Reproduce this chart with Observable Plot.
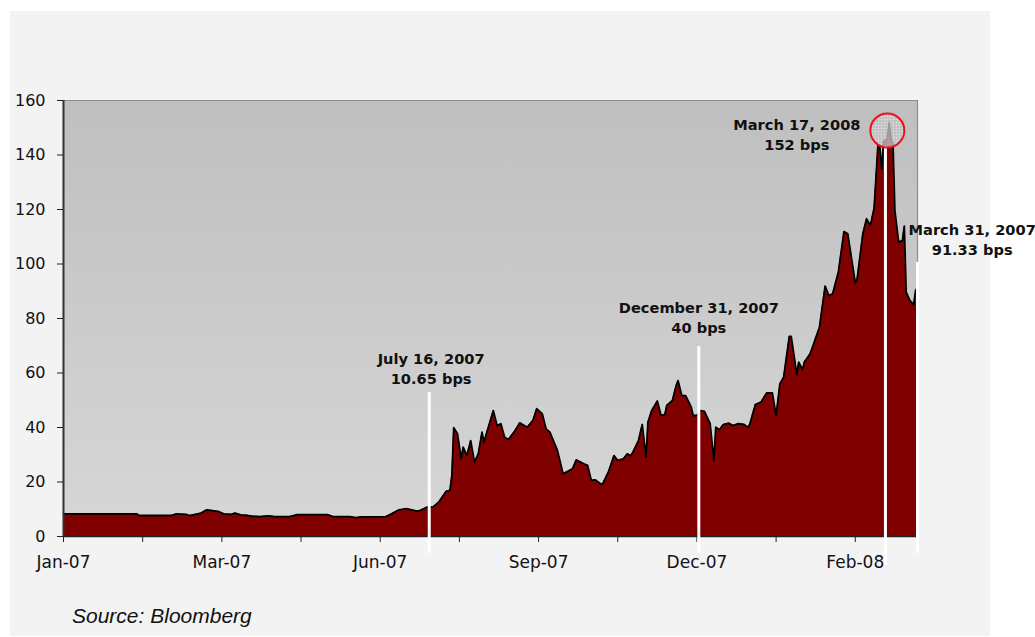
<!DOCTYPE html>
<html><head><meta charset="utf-8">
<script src="https://cdn.jsdelivr.net/npm/d3@7"></script>
<script src="https://cdn.jsdelivr.net/npm/@observablehq/plot@0.6"></script>
<style>
html,body{margin:0;padding:0;background:#fff;}
#panel{position:absolute;left:10px;top:11px;width:980px;height:625px;background:#f3f3f3;}
#chart{position:absolute;left:0;top:0;}
#caption{position:absolute;left:72px;top:604px;font:italic 21px "Liberation Sans",Arial,sans-serif;line-height:24px;color:#111;}
</style></head><body>
<div id="panel"></div>
<div id="chart"></div>
<div id="caption">Source: Bloomberg</div>
<script>
// ---- data ----
const dates = [
"2007-01-01","2007-02-09","2007-02-10","2007-02-27","2007-03-02","2007-03-07","2007-03-09","2007-03-15","2007-03-18","2007-03-24",
"2007-03-27","2007-03-31","2007-04-02","2007-04-05","2007-04-09","2007-04-11","2007-04-15","2007-04-20","2007-04-23","2007-05-01",
"2007-05-05","2007-05-21","2007-05-24","2007-06-02","2007-06-05","2007-06-08","2007-06-21","2007-06-24","2007-06-28","2007-07-02",
"2007-07-07","2007-07-09","2007-07-13","2007-07-16","2007-07-19","2007-07-23","2007-07-25","2007-07-26","2007-07-27","2007-07-29",
"2007-07-31","2007-08-01","2007-08-03","2007-08-05","2007-08-07","2007-08-09","2007-08-11","2007-08-12","2007-08-17","2007-08-19",
"2007-08-21","2007-08-23","2007-08-25","2007-08-28","2007-08-31","2007-09-04","2007-09-07","2007-09-09","2007-09-12","2007-09-14",
"2007-09-16","2007-09-20","2007-09-23","2007-09-28","2007-09-30","2007-10-04","2007-10-06","2007-10-08","2007-10-10","2007-10-13",
"2007-10-14","2007-10-17","2007-10-20","2007-10-22","2007-10-25","2007-10-27","2007-10-29","2007-10-30","2007-11-02","2007-11-04",
"2007-11-06","2007-11-07","2007-11-09","2007-11-12","2007-11-14","2007-11-16","2007-11-17","2007-11-20","2007-11-22","2007-11-23",
"2007-11-25","2007-11-27","2007-11-30","2007-12-01","2007-12-03","2007-12-05","2007-12-07","2007-12-10","2007-12-12","2007-12-13",
"2007-12-15","2007-12-17","2007-12-20","2007-12-22","2007-12-25","2007-12-28","2007-12-30","2007-12-31","2008-01-03","2008-01-06",
"2008-01-09","2008-01-12","2008-01-14","2008-01-16","2008-01-18","2008-01-21","2008-01-22","2008-01-25","2008-01-26","2008-01-28",
"2008-01-29","2008-02-01","2008-02-02","2008-02-06","2008-02-09","2008-02-11","2008-02-13","2008-02-16","2008-02-19","2008-02-21",
"2008-02-25","2008-02-26","2008-02-29","2008-03-02","2008-03-04","2008-03-06","2008-03-08","2008-03-09","2008-03-10","2008-03-11",
"2008-03-13","2008-03-14","2008-03-15","2008-03-16","2008-03-17","2008-03-19","2008-03-21","2008-03-22","2008-03-23","2008-03-25",
"2008-03-27","2008-03-28","2008-03-29"
];
const bps = [
8.3,8.3,7.7,7.7,8.3,8.1,7.7,8.6,9.8,9.2,
8.3,8.1,8.6,7.9,7.7,7.5,7.3,7.6,7.3,7.3,
8.0,8.0,7.3,7.3,6.9,7.2,7.3,8.3,9.8,10.2,
9.4,9.5,10.8,10.8,12.6,16.6,16.9,22.4,39.9,37.7,
28.5,32.8,29.7,35.2,27.3,30.3,38.3,34.6,46.2,40.7,
41.4,36.4,35.6,38.3,41.7,40.1,42.6,46.9,45.0,39.5,
38.3,31.6,23.0,24.8,28.1,26.7,26.1,20.6,20.8,19.3,
19.3,23.6,29.7,27.9,28.5,30.3,29.7,30.9,35.2,41.1,
29.1,41.9,46.2,49.7,44.4,44.8,48.1,49.9,55.4,57.2,
51.7,51.7,47.5,44.4,44.4,46.2,45.9,41.4,27.9,40.1,
39.2,41.1,41.6,40.7,41.4,41.1,40.1,41.1,48.4,49.3,
52.7,52.7,44.4,56.0,58.5,73.4,73.4,59.4,64.0,61.2,
64.0,67.0,68.9,76.8,91.9,88.4,89.1,97.0,111.9,111.1,
93.1,94.6,111.1,116.6,114.1,120.6,143.5,142.9,134.7,145.0,
146.0,152.0,146.0,144.0,119.6,108.0,108.6,113.9,89.7,86.6,
85.1,90.3,91.33
];
const xDomain = ["2007-01-01", "2008-03-29"];
const yDomain = [0, 160];
const yTicks = [0, 20, 40, 60, 80, 100, 120, 140, 160];
const tickDates = ["2007-01-01","2007-02-12","2007-03-26","2007-05-07","2007-06-18","2007-07-30","2007-09-10","2007-10-22","2007-12-03","2008-01-14","2008-02-25"];
const tickLabels = ["Jan-07","","Mar-07","","Jun-07","","Sep-07","","Dec-07","","Feb-08"];

// annotations
const noteDates  = ["2007-07-14","2007-12-04","2008-03-12","2008-03-29"];
const noteTop    = [52.8, 69.7, 143.1, 100.6];
const noteBottom = [-6.2, -6.2, -10.6, -6.2];
const labelDates = ["2007-07-15","2007-12-04","2008-01-25","2008-04-27"];
const labelY     = [62.1, 80.6, 147.9, 109.5];
const noteText   = ["July 16, 2007\n10.65 bps","December 31, 2007\n40 bps","March 17, 2008\n152 bps","March 31, 2007\n91.33 bps"];
const peakDate = ["2008-03-13"];
const peakValue = [149];

// ---- build ----
const parse = d3.utcParse("%Y-%m-%d");
const series = dates.map((d, i) => ({date: parse(d), bps: bps[i]}));
const xTicks = tickDates.map(parse);
const tickLabelMap = new Map(xTicks.map((d, i) => [+d, tickLabels[i]]));
const notes = noteDates.map((d, i) => ({
  date: parse(d), top: noteTop[i], bottom: noteBottom[i],
  labelDate: parse(labelDates[i]), labelY: labelY[i], text: noteText[i]
}));
const peak = peakDate.map((d, i) => ({date: parse(d), v: peakValue[i]}));
const x0 = parse(xDomain[0]), x1 = parse(xDomain[1]);

const chart = Plot.plot({
  width: 1035, height: 600,
  marginTop: 100, marginRight: 118, marginBottom: 64, marginLeft: 63,
  style: {fontFamily: "'DejaVu Sans', Verdana, sans-serif", background: "transparent", color: "#111", overflow: "visible"},
  x: {type: "utc", domain: [x0, x1]},
  y: {domain: yDomain},
  marks: [
    Plot.frame({fill: "url(#plotBg)", stroke: "none"}),
    Plot.areaY(series, {x: "date", y: "bps", fill: "#800000"}),
    Plot.lineY(series, {x: "date", y: "bps", stroke: "#000", strokeWidth: 1.8, strokeLinejoin: "round"}),
    Plot.ruleY([yDomain[1]], {stroke: "#8c8c8c", strokeWidth: 1.2}),
    Plot.ruleX([x1], {stroke: "#8c8c8c", strokeWidth: 1.2}),
    Plot.ruleY([0], {stroke: "#222", strokeWidth: 1.5}),
    Plot.ruleX([x0], {stroke: "#333", strokeWidth: 2}),
    Plot.axisY({ticks: yTicks, tickSize: 6, tickPadding: 12, fontSize: 16, stroke: "#222", label: null}),
    Plot.axisX({ticks: xTicks, tickSize: 6, tickPadding: 13, fontSize: 17, stroke: "#222",
      tickFormat: d => tickLabelMap.get(+d) ?? "", label: null}),
    Plot.ruleX(notes, {x: "date", y1: "top", y2: "bottom", stroke: "#fff", strokeWidth: 3}),
    Plot.dot(peak, {x: "date", y: "v", r: 17, stroke: "#e5131a", strokeWidth: 2, fill: "url(#grid)"}),
    Plot.text(notes, {x: "labelDate", y: "labelY", text: "text", fontWeight: "bold", fontSize: 14.6, lineHeight: 1.37, fill: "#111"})
  ]
});

const defs = d3.select(chart).insert("defs", ":first-child");
const grad = defs.append("linearGradient").attr("id", "plotBg").attr("x1", 0).attr("y1", 0).attr("x2", 0).attr("y2", 1);
grad.append("stop").attr("offset", "0%").attr("stop-color", "#bfbfbf");
grad.append("stop").attr("offset", "100%").attr("stop-color", "#d7d7d7");
const pat = defs.append("pattern").attr("id", "grid").attr("width", 3).attr("height", 3).attr("patternUnits", "userSpaceOnUse");
pat.append("rect").attr("width", 3).attr("height", 3).attr("fill", "#e6e6e6").attr("fill-opacity", 0.65);
pat.append("path").attr("d", "M0 0.5H3M0.5 0V3").attr("stroke", "#a0a0a0").attr("stroke-width", 0.5);

document.getElementById("chart").appendChild(chart);
</script></body></html>
